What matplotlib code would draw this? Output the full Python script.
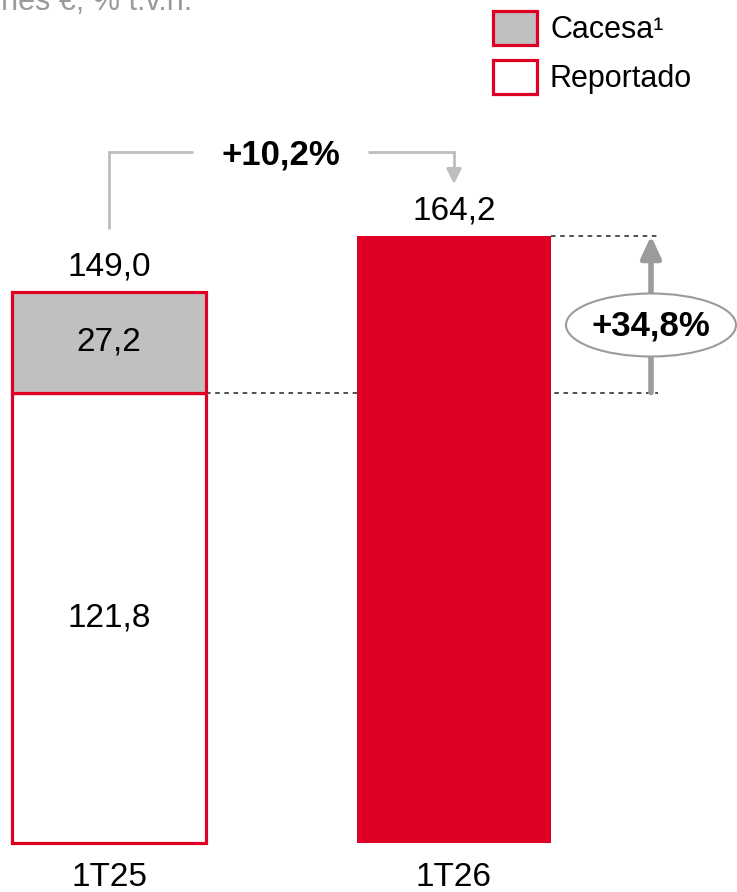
import matplotlib
matplotlib.use("Agg")
import matplotlib.pyplot as plt
from matplotlib.patches import Rectangle, Ellipse

plt.rcParams['font.family'] = ['Liberation Sans', 'DejaVu Sans']

# ---- data ----
categories = ["1T25", "1T26"]
reportado = [121.8, 164.2]
cacesa = [27.2, 0.0]
totals = [149.0, 164.2]
total_labels = ["149,0", "164,2"]
reportado_label = "121,8"
cacesa_label = "27,2"
growth_total = "+10,2%"
growth_reported = "+34,8%"
legend_labels = ["Cacesa¹", "Reportado"]
subtitle = "Millones €; % t.v.n."

RED = "#E00025"
GREY = "#C0C0C0"
DARKGREY = "#9B9B9B"

W, H = 737, 892
fig = plt.figure(figsize=(W / 100, H / 100), dpi=100)
ax = fig.add_axes([0, 0, 1, 1])

ppu = 3.698
y0_px = 49
ax.set_ylim(-y0_px / ppu, (H - y0_px) / ppu)
xc0, dx = 109, 345
ax.set_xlim(-xc0 / dx, 1 + (W - 454) / dx)
ax.axis("off")


def py(p):
    return (H - p - y0_px) / ppu


def px(p):
    return (p - xc0) / dx


bw = 194 / dx
x = [0, 1]
lw = 2.3
ax.bar(x[0], reportado[0], width=bw, color="white", edgecolor=RED, linewidth=lw, zorder=3)
ax.bar(x[0], cacesa[0], bottom=reportado[0], width=bw, color=GREY, edgecolor=RED,
       linewidth=lw, zorder=3)
ax.bar(x[1], reportado[1], width=bw, color=RED, edgecolor=RED, linewidth=0, zorder=3)

fs = 24
ax.text(x[0], totals[0] + 6.8, total_labels[0], ha="center", va="center", fontsize=fs)
ax.text(x[1], totals[1] + 6.8, total_labels[1], ha="center", va="center", fontsize=fs)
ax.text(x[0], reportado[0] + cacesa[0] / 2, cacesa_label, ha="center", va="center", fontsize=fs, zorder=4)
ax.text(x[0], reportado[0] / 2, reportado_label, ha="center", va="center", fontsize=fs, zorder=4)
for xi, c in zip(x, categories):
    ax.text(xi, py(877), c, ha="center", va="center", fontsize=fs)

# dashed reference lines
xr_end = px(658)
ax.plot([x[1] + bw / 2, xr_end], [totals[1], totals[1]], ls=(0, (3, 3)), color="#222222", lw=1.1, zorder=2)
ax.plot([x[0] + bw / 2, xr_end], [reportado[0], reportado[0]], ls=(0, (3, 3)), color="#222222", lw=1.1, zorder=2)

# vertical arrow for +34,8%
xa = px(651)
ax.annotate("", xy=(xa, totals[1]), xytext=(xa, reportado[0]),
            arrowprops=dict(arrowstyle="-|>,head_length=1.3,head_width=0.6", color=DARKGREY,
                            lw=4, shrinkA=0, shrinkB=0), zorder=4)
ell = Ellipse((xa, py(325)), width=170 / dx, height=63 / ppu,
              facecolor="white", edgecolor=DARKGREY, lw=1.5, zorder=5)
ax.add_patch(ell)
ax.text(xa, py(326), growth_reported, ha="center", va="center",
        fontsize=25, fontweight="bold", zorder=6)

# bracket for +10,2%
BR = "#BDBDBD"
ax.plot([px(109), px(109), px(193)], [py(229), py(152), py(152)], color=BR, lw=2,
        solid_capstyle="butt", solid_joinstyle="miter")
ax.plot([px(368), px(454), px(454)], [py(152), py(152), py(172)], color=BR, lw=2,
        solid_capstyle="butt", solid_joinstyle="miter")
ax.annotate("", xy=(px(454), py(184)), xytext=(px(454), py(170)),
            arrowprops=dict(arrowstyle="-|>,head_length=0.9,head_width=0.45", color=BR, lw=2,
                            shrinkA=0, shrinkB=0))
ax.text(px(281), py(155), growth_total, ha="center", va="center", fontsize=25, fontweight="bold")

# legend (custom boxes)
def fig_rect(x0, y0, w, h, **kw):
    r = Rectangle((x0 / W, 1 - (y0 + h) / H), w / W, h / H, transform=fig.transFigure, **kw)
    fig.add_artist(r)


fig_rect(493, 11, 44, 34, facecolor=GREY, edgecolor=RED, lw=2.3)
fig_rect(493, 60, 44, 34, facecolor="white", edgecolor=RED, lw=2.3)
fig.text(550 / W, 1 - 30 / H, legend_labels[0], ha="left", va="center", fontsize=22)
fig.text(550 / W, 1 - 79 / H, legend_labels[1], ha="left", va="center", fontsize=22)

# subtitle (cropped at top in reference)
fig.text(192 / W, 1 - 10 / H, subtitle, ha="right", va="baseline", fontsize=22, color="#9A9A9A")

fig.savefig("out.png", dpi=100)
